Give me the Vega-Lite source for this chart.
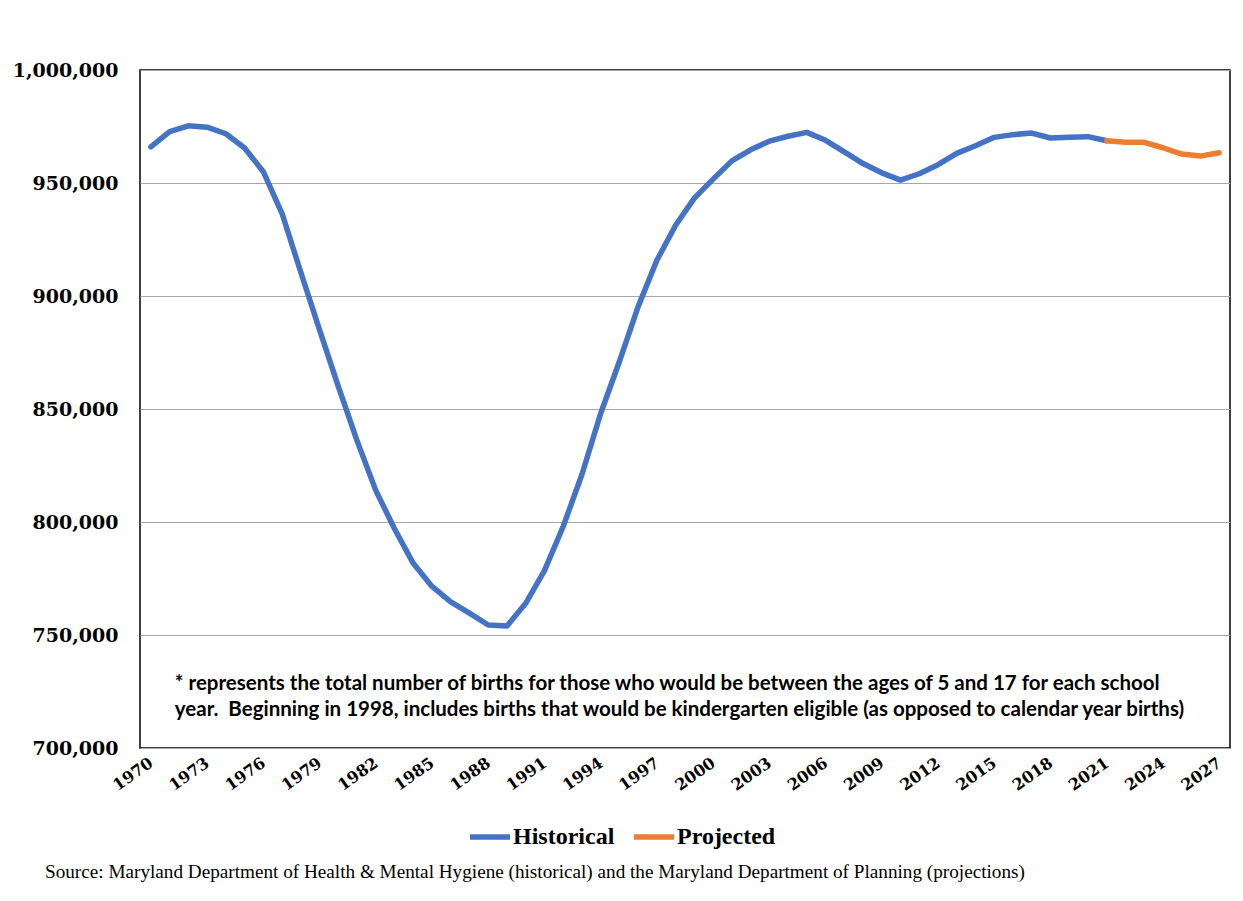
{
  "$schema": "https://vega.github.io/schema/vega-lite/v6.json",
  "autosize": "none",
  "width": 1090,
  "height": 678,
  "padding": {"left": 140, "top": 70, "right": 13, "bottom": 153},
  "background": "white",
  "config": {
    "view": {"stroke": "#000000", "strokeWidth": 1.5},
    "axis": {"domain": false, "ticks": false}
  },
  "title": {
    "text": "Source: Maryland Department of Health & Mental Hygiene (historical) and the Maryland Department of Planning (projections)",
    "orient": "bottom",
    "anchor": "start",
    "frame": "group",
    "dx": -95,
    "offset": 14,
    "font": "Liberation Serif",
    "fontSize": 19.2,
    "fontWeight": "normal",
    "color": "#000000"
  },
  "datasets": {
    "births": [
      {"year": 1970, "births": 966000, "series": "Historical"},
      {"year": 1971, "births": 972700, "series": "Historical"},
      {"year": 1972, "births": 975300, "series": "Historical"},
      {"year": 1973, "births": 974700, "series": "Historical"},
      {"year": 1974, "births": 971800, "series": "Historical"},
      {"year": 1975, "births": 965500, "series": "Historical"},
      {"year": 1976, "births": 955000, "series": "Historical"},
      {"year": 1977, "births": 936500, "series": "Historical"},
      {"year": 1978, "births": 910500, "series": "Historical"},
      {"year": 1979, "births": 885000, "series": "Historical"},
      {"year": 1980, "births": 860000, "series": "Historical"},
      {"year": 1981, "births": 836000, "series": "Historical"},
      {"year": 1982, "births": 814000, "series": "Historical"},
      {"year": 1983, "births": 797000, "series": "Historical"},
      {"year": 1984, "births": 781700, "series": "Historical"},
      {"year": 1985, "births": 771500, "series": "Historical"},
      {"year": 1986, "births": 764700, "series": "Historical"},
      {"year": 1987, "births": 759700, "series": "Historical"},
      {"year": 1988, "births": 754400, "series": "Historical"},
      {"year": 1989, "births": 754000, "series": "Historical"},
      {"year": 1990, "births": 764000, "series": "Historical"},
      {"year": 1991, "births": 778500, "series": "Historical"},
      {"year": 1992, "births": 798000, "series": "Historical"},
      {"year": 1993, "births": 821000, "series": "Historical"},
      {"year": 1994, "births": 848000, "series": "Historical"},
      {"year": 1995, "births": 871000, "series": "Historical"},
      {"year": 1996, "births": 895300, "series": "Historical"},
      {"year": 1997, "births": 915800, "series": "Historical"},
      {"year": 1998, "births": 931300, "series": "Historical"},
      {"year": 1999, "births": 943300, "series": "Historical"},
      {"year": 2000, "births": 951700, "series": "Historical"},
      {"year": 2001, "births": 959800, "series": "Historical"},
      {"year": 2002, "births": 964700, "series": "Historical"},
      {"year": 2003, "births": 968500, "series": "Historical"},
      {"year": 2004, "births": 970700, "series": "Historical"},
      {"year": 2005, "births": 972400, "series": "Historical"},
      {"year": 2006, "births": 968900, "series": "Historical"},
      {"year": 2007, "births": 963800, "series": "Historical"},
      {"year": 2008, "births": 958600, "series": "Historical"},
      {"year": 2009, "births": 954500, "series": "Historical"},
      {"year": 2010, "births": 951300, "series": "Historical"},
      {"year": 2011, "births": 954100, "series": "Historical"},
      {"year": 2012, "births": 958100, "series": "Historical"},
      {"year": 2013, "births": 963100, "series": "Historical"},
      {"year": 2014, "births": 966500, "series": "Historical"},
      {"year": 2015, "births": 970200, "series": "Historical"},
      {"year": 2016, "births": 971400, "series": "Historical"},
      {"year": 2017, "births": 972100, "series": "Historical"},
      {"year": 2018, "births": 969900, "series": "Historical"},
      {"year": 2019, "births": 970200, "series": "Historical"},
      {"year": 2020, "births": 970500, "series": "Historical"},
      {"year": 2021, "births": 968700, "series": "Historical"},
      {"year": 2021, "births": 968700, "series": "Projected"},
      {"year": 2022, "births": 968000, "series": "Projected"},
      {"year": 2023, "births": 968000, "series": "Projected"},
      {"year": 2024, "births": 965600, "series": "Projected"},
      {"year": 2025, "births": 962800, "series": "Projected"},
      {"year": 2026, "births": 961900, "series": "Projected"},
      {"year": 2027, "births": 963400, "series": "Projected"}
    ]
  },
  "layer": [
    {
      "data": {"name": "births"},
      "mark": {"type": "line", "strokeWidth": 5.5, "strokeCap": "round", "strokeJoin": "round"},
      "encoding": {
        "x": {
          "field": "year",
          "type": "quantitative",
          "scale": {"domain": [1969.42, 2027.58], "nice": false, "zero": false},
          "axis": {
            "title": null,
            "grid": false,
            "values": [1970, 1973, 1976, 1979, 1982, 1985, 1988, 1991, 1994, 1997, 2000, 2003, 2006, 2009, 2012, 2015, 2018, 2021, 2024, 2027],
            "format": "d",
            "labelAngle": -35,
            "labelAlign": "right",
            "labelBaseline": "middle",
            "labelPadding": 13,
            "labelFont": "DejaVu Serif",
            "labelFontWeight": "bold",
            "labelFontSize": 16,
            "labelColor": "#000000",
            "labelOverlap": false,
            "labelBound": false,
            "labelFlush": false
          }
        },
        "y": {
          "field": "births",
          "type": "quantitative",
          "scale": {"domain": [700000, 1000000], "nice": false, "zero": false},
          "axis": {
            "title": null,
            "values": [700000, 750000, 800000, 850000, 900000, 950000, 1000000],
            "format": ",.0f",
            "grid": true,
            "gridColor": "#a6a6a6",
            "gridWidth": 1,
            "labelPadding": 22,
            "labelFont": "DejaVu Serif",
            "labelFontWeight": "bold",
            "labelFontSize": 19,
            "labelColor": "#000000",
            "labelOverlap": false,
            "labelFlush": false
          }
        },
        "color": {
          "field": "series",
          "type": "nominal",
          "scale": {"domain": ["Historical", "Projected"], "range": ["#4472C4", "#ED7D31"]},
          "legend": {
            "title": null,
            "orient": "none",
            "direction": "horizontal",
            "legendX": 327,
            "legendY": 744,
            "padding": 0,
            "symbolType": "stroke",
            "symbolSize": 1600,
            "symbolStrokeWidth": 5.5,
            "labelOffset": 0,
            "columnPadding": 8,
            "labelFont": "Liberation Serif",
            "labelFontWeight": "bold",
            "labelFontSize": 24,
            "labelColor": "#000000"
          }
        }
      }
    },
    {
      "data": {"values": [{}]},
      "mark": {
        "type": "text",
        "align": "left",
        "baseline": "alphabetic",
        "font": "Lato",
        "fontWeight": "bold",
        "fontSize": 20.5,
        "lineHeight": 26,
        "color": "#000000",
        "text": ["* represents the total number of births for those who would be between the ages of 5 and 17 for each school", "year.\u00a0 Beginning in 1998, includes births that would be kindergarten eligible (as opposed to calendar year births)"]
      },
      "encoding": {
        "x": {"datum": 1971.28},
        "y": {"datum": 725700}
      }
    }
  ]
}
